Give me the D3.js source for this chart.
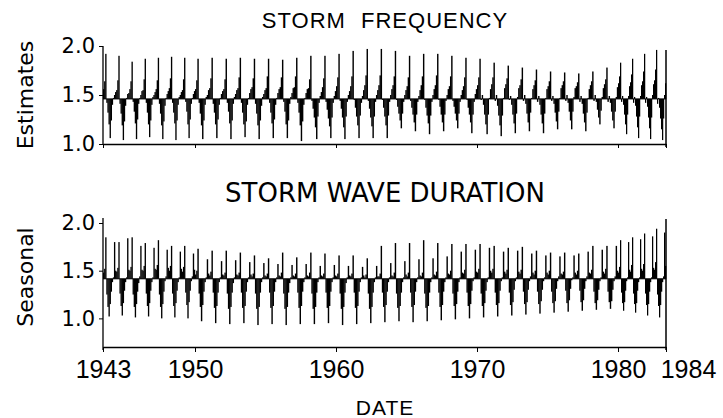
<!DOCTYPE html>
<html><head><meta charset="utf-8">
<script src="https://cdn.jsdelivr.net/npm/d3@7"></script>
<style>body{margin:0;background:#fff}svg{display:block}</style>
</head><body>
<svg id="c" width="723" height="418"></svg>
<script>
// ---- data (seasonal factor estimates, monthly Jan..Dec per year) ----
const years = [1943,1944,1945,1946,1947,1948,1949,1950,1951,1952,1953,1954,1955,1956,1957,1958,1959,1960,1961,1962,1963,1964,1965,1966,1967,1968,1969,1970,1971,1972,1973,1974,1975,1976,1977,1978,1979,1980,1981,1982,1983];
const xTickValues = [1943,1950,1960,1970,1980,1984];
const xTickLabels = ["1943","1950","1960","1970","1980","1984"];
const yTickValues = [1.0,1.5,2.0];
const yTickLabels = ["1.0","1.5","2.0"];
const freqBaseline = 1.46;
const durBaseline = 1.415;
const freqTitle = "STORM FREQUENCY";
const durTitle = "STORM WAVE DURATION";

const freq = [
[1.56,1.64,1.92,1.42,1.32,1.20,1.06,1.24,1.40,1.47,1.50,1.53],
[1.55,1.65,1.90,1.41,1.31,1.19,1.04,1.23,1.39,1.47,1.51,1.52],
[1.56,1.64,1.84,1.43,1.33,1.21,1.05,1.25,1.41,1.47,1.50,1.54],
[1.55,1.66,1.87,1.42,1.32,1.20,1.07,1.24,1.40,1.48,1.50,1.53],
[1.56,1.65,1.88,1.41,1.31,1.19,1.05,1.23,1.39,1.47,1.51,1.54],
[1.57,1.67,1.89,1.42,1.32,1.21,1.04,1.24,1.40,1.48,1.50,1.53],
[1.55,1.66,1.88,1.43,1.33,1.20,1.06,1.25,1.41,1.47,1.51,1.54],
[1.56,1.65,1.87,1.42,1.31,1.19,1.05,1.24,1.40,1.48,1.50,1.55],
[1.57,1.67,1.88,1.41,1.32,1.20,1.06,1.25,1.40,1.47,1.51,1.54],
[1.56,1.66,1.87,1.42,1.33,1.21,1.05,1.24,1.41,1.48,1.51,1.55],
[1.57,1.68,1.88,1.42,1.32,1.20,1.07,1.23,1.40,1.47,1.52,1.56],
[1.58,1.67,1.87,1.41,1.31,1.19,1.05,1.24,1.39,1.48,1.51,1.55],
[1.57,1.69,1.87,1.42,1.32,1.21,1.06,1.25,1.40,1.47,1.52,1.56],
[1.58,1.68,1.86,1.43,1.33,1.20,1.06,1.24,1.41,1.48,1.52,1.57],
[1.58,1.69,1.88,1.42,1.32,1.19,1.03,1.23,1.40,1.47,1.52,1.56],
[1.57,1.66,1.90,1.44,1.36,1.27,1.17,1.05,1.28,1.42,1.49,1.53],
[1.58,1.67,1.90,1.43,1.35,1.26,1.18,1.06,1.27,1.42,1.49,1.54],
[1.59,1.68,1.92,1.44,1.36,1.27,1.17,1.05,1.28,1.43,1.50,1.54],
[1.59,1.69,1.95,1.45,1.37,1.28,1.19,1.06,1.29,1.42,1.49,1.55],
[1.60,1.70,1.97,1.44,1.36,1.27,1.18,1.06,1.28,1.43,1.50,1.55],
[1.60,1.70,1.97,1.45,1.37,1.28,1.19,1.06,1.29,1.43,1.50,1.56],
[1.60,1.69,1.95,1.45,1.38,1.31,1.24,1.16,1.31,1.43,1.50,1.55],
[1.59,1.68,1.90,1.44,1.37,1.30,1.22,1.13,1.30,1.43,1.49,1.55],
[1.60,1.69,1.92,1.45,1.37,1.29,1.21,1.10,1.29,1.43,1.50,1.56],
[1.60,1.70,1.92,1.45,1.38,1.30,1.22,1.13,1.30,1.44,1.50,1.56],
[1.59,1.69,1.90,1.44,1.38,1.31,1.24,1.16,1.31,1.43,1.50,1.55],
[1.59,1.68,1.88,1.45,1.37,1.30,1.22,1.11,1.30,1.43,1.51,1.56],
[1.60,1.68,1.87,1.45,1.50,1.40,1.30,1.20,1.10,1.30,1.47,1.56],
[1.61,1.68,1.83,1.44,1.50,1.39,1.29,1.19,1.08,1.29,1.47,1.57],
[1.61,1.67,1.80,1.45,1.49,1.40,1.30,1.21,1.11,1.31,1.48,1.57],
[1.60,1.66,1.78,1.44,1.50,1.41,1.31,1.22,1.13,1.32,1.47,1.56],
[1.60,1.65,1.76,1.43,1.49,1.40,1.30,1.21,1.11,1.31,1.47,1.56],
[1.59,1.64,1.74,1.44,1.49,1.41,1.32,1.23,1.15,1.33,1.47,1.57],
[1.60,1.64,1.73,1.44,1.50,1.42,1.33,1.24,1.15,1.33,1.48,1.57],
[1.59,1.63,1.72,1.43,1.49,1.41,1.31,1.22,1.13,1.32,1.47,1.56],
[1.60,1.64,1.74,1.44,1.50,1.43,1.35,1.27,1.20,1.34,1.48,1.57],
[1.61,1.66,1.78,1.43,1.49,1.42,1.33,1.24,1.16,1.33,1.48,1.58],
[1.62,1.69,1.83,1.43,1.49,1.40,1.30,1.20,1.10,1.30,1.49,1.59],
[1.63,1.71,1.87,1.42,1.48,1.39,1.28,1.17,1.06,1.28,1.49,1.60],
[1.64,1.74,1.92,1.42,1.48,1.38,1.27,1.16,1.05,1.27,1.50,1.61],
[1.65,1.76,1.96,1.41,1.47,1.37,1.26,1.15,1.04,1.26,1.50,1.62]
];

const dur = [
[1.48,1.52,1.85,1.25,1.12,1.02,1.15,1.28,1.38,1.43,1.80,1.50],
[1.49,1.53,1.80,1.26,1.13,1.03,1.16,1.29,1.38,1.43,1.84,1.51],
[1.50,1.54,1.85,1.25,1.12,1.01,1.15,1.28,1.37,1.44,1.76,1.51],
[1.50,1.55,1.79,1.26,1.13,1.02,1.16,1.29,1.38,1.43,1.74,1.52],
[1.51,1.56,1.82,1.25,1.12,1.00,1.15,1.28,1.39,1.44,1.72,1.53],
[1.50,1.55,1.76,1.26,1.13,1.01,1.16,1.29,1.38,1.43,1.70,1.52],
[1.49,1.54,1.76,1.27,1.14,1.00,1.17,1.29,1.39,1.44,1.68,1.51],
[1.46,1.50,1.73,1.26,1.12,0.97,1.14,1.28,1.38,1.43,1.62,1.47],
[1.45,1.49,1.71,1.27,1.11,0.95,1.13,1.27,1.38,1.43,1.60,1.46],
[1.45,1.48,1.71,1.26,1.10,0.94,1.12,1.27,1.37,1.43,1.61,1.46],
[1.45,1.48,1.69,1.27,1.11,0.95,1.13,1.28,1.38,1.43,1.59,1.46],
[1.44,1.47,1.66,1.26,1.10,0.93,1.12,1.27,1.38,1.43,1.58,1.45],
[1.44,1.47,1.63,1.27,1.11,0.94,1.13,1.28,1.38,1.43,1.57,1.45],
[1.44,1.48,1.69,1.26,1.10,0.93,1.12,1.27,1.37,1.43,1.56,1.45],
[1.44,1.47,1.64,1.27,1.11,0.94,1.13,1.28,1.38,1.43,1.57,1.45],
[1.44,1.48,1.69,1.26,1.10,0.94,1.12,1.27,1.38,1.43,1.55,1.45],
[1.44,1.47,1.68,1.27,1.11,0.95,1.13,1.28,1.38,1.43,1.56,1.45],
[1.44,1.47,1.66,1.26,1.10,0.93,1.12,1.27,1.37,1.43,1.55,1.45],
[1.44,1.47,1.66,1.27,1.11,0.94,1.13,1.28,1.38,1.43,1.54,1.45],
[1.43,1.46,1.63,1.26,1.10,0.95,1.12,1.27,1.38,1.43,1.55,1.44],
[1.44,1.47,1.76,1.27,1.12,0.96,1.14,1.28,1.38,1.43,1.58,1.45],
[1.44,1.48,1.79,1.26,1.11,0.97,1.13,1.27,1.38,1.43,1.60,1.46],
[1.44,1.48,1.79,1.27,1.12,0.96,1.14,1.28,1.38,1.43,1.62,1.45],
[1.44,1.48,1.82,1.26,1.11,0.97,1.13,1.27,1.38,1.43,1.63,1.46],
[1.45,1.49,1.79,1.27,1.12,0.98,1.14,1.28,1.38,1.43,1.65,1.47],
[1.46,1.50,1.78,1.26,1.13,0.99,1.15,1.28,1.38,1.43,1.70,1.48],
[1.47,1.51,1.78,1.27,1.13,1.00,1.15,1.29,1.39,1.43,1.72,1.49],
[1.48,1.52,1.78,1.26,1.13,1.01,1.16,1.29,1.38,1.43,1.74,1.50],
[1.48,1.52,1.76,1.27,1.14,1.02,1.16,1.29,1.39,1.43,1.70,1.49],
[1.47,1.51,1.74,1.27,1.14,1.03,1.17,1.30,1.39,1.43,1.71,1.49],
[1.47,1.51,1.75,1.28,1.15,1.04,1.17,1.30,1.39,1.44,1.68,1.48],
[1.46,1.50,1.71,1.28,1.15,1.05,1.18,1.30,1.39,1.43,1.66,1.48],
[1.46,1.50,1.69,1.28,1.16,1.06,1.18,1.31,1.39,1.44,1.65,1.47],
[1.46,1.49,1.69,1.29,1.16,1.07,1.19,1.31,1.40,1.43,1.66,1.48],
[1.46,1.50,1.68,1.29,1.17,1.08,1.19,1.31,1.39,1.44,1.70,1.48],
[1.47,1.51,1.76,1.28,1.16,1.09,1.19,1.30,1.39,1.43,1.72,1.49],
[1.47,1.52,1.76,1.28,1.17,1.10,1.18,1.30,1.39,1.44,1.76,1.50],
[1.48,1.54,1.82,1.27,1.16,1.08,1.17,1.29,1.39,1.43,1.80,1.51],
[1.49,1.56,1.85,1.26,1.15,1.06,1.16,1.29,1.38,1.43,1.83,1.52],
[1.50,1.57,1.89,1.26,1.14,1.03,1.15,1.28,1.38,1.43,1.86,1.53],
[1.51,1.59,1.94,1.25,1.13,1.01,1.14,1.28,1.38,1.44,1.90,1.55]
];

// ---- drawing ----
const svg = d3.select("#c");
const X0 = 103, X1 = 666;
const x = d3.scaleLinear().domain([1943, 1950, 1980, 1984]).range([X0, 195, 618, X1]);
const yTop = d3.scaleLinear().domain([1.0, 2.0]).range([144, 46]);
const yBot = d3.scaleLinear().domain([0.7, 2.0]).range([347, 223]);
const sansA = "'Liberation Sans', Arial, sans-serif";
const sansB = "'DejaVu Sans', sans-serif";

function flat(rows) {
  return years.flatMap((yr, i) => rows[i].map((v, m) => ({t: yr + m / 12, v})));
}

function panel(rows, base, y, opts) {
  const g = svg.append("g");
  const d = flat(rows);
  g.selectAll("rect").data(d).join("rect")
    .attr("x", p => x(p.t))
    .attr("width", p => x(p.t + 1/12) - x(p.t) + 0.25)
    .attr("y", p => Math.min(y(p.v), y(base)))
    .attr("height", p => Math.max(0.6, Math.abs(y(p.v) - y(base))))
    .attr("fill", "#000");
  g.append("line").attr("x1", X0).attr("x2", X1)
    .attr("y1", y(base)).attr("y2", y(base))
    .attr("stroke", "#000").attr("stroke-width", 1);
  const ax = g.append("g").attr("transform", `translate(${X0},0)`)
    .call(d3.axisLeft(y).tickValues(yTickValues).tickFormat((v, i) => yTickLabels[i])
      .tickSize(4).tickSizeOuter(0).tickPadding(4));
  ax.select(".domain").remove();
  ax.selectAll("text").attr("font-family", sansB).attr("font-size", 21).attr("fill", "#000");
  g.append("line").attr("x1", X0).attr("x2", X0)
    .attr("y1", opts.leftTop).attr("y2", opts.bottom + opts.leftExt)
    .attr("stroke", "#000").attr("stroke-width", 1.3);
  const bx = g.append("g").attr("transform", `translate(0,${opts.bottom})`)
    .call(d3.axisBottom(x).tickValues(xTickValues)
      .tickFormat((v, i) => opts.labels ? xTickLabels[i] : "")
      .tickSize(opts.tick).tickSizeOuter(0).tickPadding(8));
  bx.select(".domain").attr("stroke-width", 1.3);
  bx.selectAll("text").attr("font-family", sansA).attr("font-size", 25).attr("fill", "#000");
  bx.selectAll(".tick").filter((v, i) => i === xTickValues.length - 1)
    .select("text").attr("dx", 22);
  g.append("line").attr("x1", X1).attr("x2", X1)
    .attr("y1", opts.rightTop).attr("y2", opts.bottom + 3)
    .attr("stroke", "#000").attr("stroke-width", 1.5);
  return g;
}

panel(freq, freqBaseline, yTop, {bottom: 144, tick: 4, labels: false, rightTop: 50, leftTop: 46, leftExt: 0});
panel(dur, durBaseline, yBot, {bottom: 347, tick: 5, labels: true, rightTop: 219, leftTop: 218, leftExt: 3});

svg.append("text").attr("x", 385).attr("y", 28).attr("text-anchor", "middle")
  .attr("font-family", sansA).attr("font-size", 22).attr("letter-spacing", 1)
  .attr("word-spacing", 8).text(freqTitle);
svg.append("text").attr("x", 385).attr("y", 202).attr("text-anchor", "middle")
  .attr("font-family", sansB).attr("font-size", 26).text(durTitle);

svg.append("text").attr("transform", "translate(33,95) rotate(-90)")
  .attr("text-anchor", "middle").attr("font-family", sansB).attr("font-size", 22).text("Estimates");
svg.append("text").attr("transform", "translate(33,277) rotate(-90)")
  .attr("text-anchor", "middle").attr("font-family", sansB).attr("font-size", 22).text("Seasonal");

svg.append("text").attr("x", 385).attr("y", 415).attr("text-anchor", "middle")
  .attr("font-family", sansA).attr("font-size", 21).attr("letter-spacing", 1).text("DATE");
</script>
</body></html>
